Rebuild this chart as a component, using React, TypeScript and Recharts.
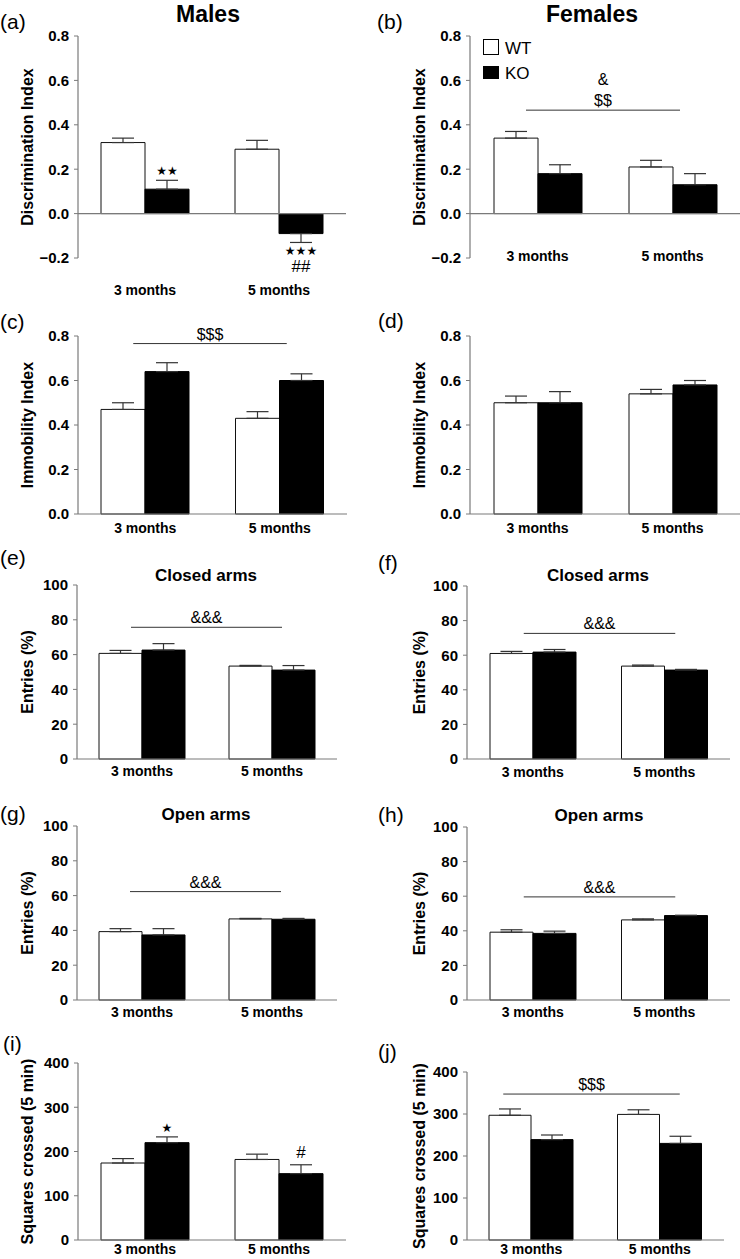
import React from "react";
import {
  BarChart,
  Bar,
  XAxis,
  YAxis,
  ErrorBar,
  ReferenceLine,
  LabelList,
} from "recharts";

const categories = ["3 months", "5 months"];

// (a) males - discrimination index
const maleDiWt = [0.32, 0.29];
const maleDiWtSem = [0.02, 0.04];
const maleDiKo = [0.11, -0.09];
const maleDiKoSem = [0.04, 0.04];
const maleDiKoMarks = ["★★", "★★★|##"];

// (b) females - discrimination index
const femaleDiWt = [0.34, 0.21];
const femaleDiWtSem = [0.03, 0.03];
const femaleDiKo = [0.18, 0.13];
const femaleDiKoSem = [0.04, 0.05];
const femaleDiSig = 0.466;
const femaleDiSigText = ["&", "$$"];

// (c) males - immobility index
const maleImWt = [0.47, 0.43];
const maleImWtSem = [0.03, 0.03];
const maleImKo = [0.64, 0.6];
const maleImKoSem = [0.04, 0.03];
const maleImSig = 0.766;
const maleImSigText = ["$$$"];

// (d) females - immobility index
const femaleImWt = [0.5, 0.54];
const femaleImWtSem = [0.03, 0.02];
const femaleImKo = [0.5, 0.58];
const femaleImKoSem = [0.05, 0.02];

// (e) males - closed arms entries
const maleClosedWt = [60.7, 53.4];
const maleClosedWtSem = [1.7, 0.4];
const maleClosedKo = [62.6, 51.1];
const maleClosedKoSem = [3.7, 2.6];
const maleClosedSig = 75.7;

// (f) females - closed arms entries
const femaleClosedWt = [61.0, 53.7];
const femaleClosedWtSem = [1.2, 0.6];
const femaleClosedKo = [61.8, 51.4];
const femaleClosedKoSem = [1.5, 0.4];
const femaleClosedSig = 72.6;

// (g) males - open arms entries
const maleOpenWt = [39.3, 46.6];
const maleOpenWtSem = [1.7, 0.3];
const maleOpenKo = [37.4, 46.4];
const maleOpenKoSem = [3.6, 0.5];
const maleOpenSig = 62.3;

// (h) females - open arms entries
const femaleOpenWt = [39.2, 46.3];
const femaleOpenWtSem = [1.4, 0.6];
const femaleOpenKo = [38.5, 48.8];
const femaleOpenKoSem = [1.3, 0.2];
const femaleOpenSig = 59.6;

const armsSigText = ["&&&"];

// (i) males - squares crossed
const maleSqWt = [174, 182];
const maleSqWtSem = [10, 12];
const maleSqKo = [220, 150];
const maleSqKoSem = [13, 20];
const maleSqKoMarks = ["★", "#"];

// (j) females - squares crossed
const femaleSqWt = [297, 299];
const femaleSqWtSem = [15, 11];
const femaleSqKo = [239, 230];
const femaleSqKoSem = [11, 17];
const femaleSqSig = 347.5;
const femaleSqSigText = ["$$$"];

const indexTicks = [-0.2, 0, 0.2, 0.4, 0.6, 0.8];
const immTicks = [0, 0.2, 0.4, 0.6, 0.8];
const entryTicks = [0, 20, 40, 60, 80, 100];
const squareTicks = [0, 100, 200, 300, 400];

const AXIS = "#7a7a7a";
const FONT = "'Liberation Sans', Arial, Helvetica, sans-serif";

const fmt1 = (v: number) =>
  v < 0 ? "\u2212" + Math.abs(v).toFixed(1) : v.toFixed(1);
const fmt0 = (v: number) => String(v);

type Sig = { y: number; labels: string[]; ext: [number, number] };

type PanelSpec = {
  colLeft: number;
  px0: number;
  px1: number;
  py0: number;
  py1: number;
  domain: [number, number];
  ticks: number[];
  fmt: (v: number) => string;
  yLabel: string;
  barSize: number;
  catDy: number;
  zeroLine?: boolean;
  wt: number[];
  wtSem: number[];
  ko: number[];
  koSem: number[];
  marks?: string[];
  sig?: Sig;
};

const panels: PanelSpec[] = [
  {
    colLeft: 0, px0: 78, px1: 346, py0: 36, py1: 258,
    domain: [-0.2, 0.8], ticks: indexTicks, fmt: fmt1,
    yLabel: "Discrimination Index", barSize: 44, catDy: 37, zeroLine: true,
    wt: maleDiWt, wtSem: maleDiWtSem, ko: maleDiKo, koSem: maleDiKoSem,
    marks: maleDiKoMarks,
  },
  {
    colLeft: 370, px0: 470, px1: 740, py0: 36, py1: 258,
    domain: [-0.2, 0.8], ticks: indexTicks, fmt: fmt1,
    yLabel: "Discrimination Index", barSize: 44, catDy: 3, zeroLine: true,
    wt: femaleDiWt, wtSem: femaleDiWtSem, ko: femaleDiKo, koSem: femaleDiKoSem,
    sig: { y: femaleDiSig, labels: femaleDiSigText, ext: [11.5, 7.5] },
  },
  {
    colLeft: 0, px0: 78, px1: 347, py0: 336, py1: 514,
    domain: [0, 0.8], ticks: immTicks, fmt: fmt1,
    yLabel: "Immobility Index", barSize: 44, catDy: 19,
    wt: maleImWt, wtSem: maleImWtSem, ko: maleImKo, koSem: maleImKoSem,
    sig: { y: maleImSig, labels: maleImSigText, ext: [12, 7] },
  },
  {
    colLeft: 370, px0: 470, px1: 740, py0: 336, py1: 514,
    domain: [0, 0.8], ticks: immTicks, fmt: fmt1,
    yLabel: "Immobility Index", barSize: 44, catDy: 19,
    wt: femaleImWt, wtSem: femaleImWtSem, ko: femaleImKo, koSem: femaleImKoSem,
  },
  {
    colLeft: 0, px0: 77, px1: 337, py0: 585, py1: 759,
    domain: [0, 100], ticks: entryTicks, fmt: fmt0,
    yLabel: "Entries (%)", barSize: 43, catDy: 17,
    wt: maleClosedWt, wtSem: maleClosedWtSem, ko: maleClosedKo, koSem: maleClosedKoSem,
    sig: { y: maleClosedSig, labels: armsSigText, ext: [11, 10] },
  },
  {
    colLeft: 370, px0: 467, px1: 730, py0: 586, py1: 759,
    domain: [0, 100], ticks: entryTicks, fmt: fmt0,
    yLabel: "Entries (%)", barSize: 43, catDy: 18,
    wt: femaleClosedWt, wtSem: femaleClosedWtSem, ko: femaleClosedKo, koSem: femaleClosedKoSem,
    sig: { y: femaleClosedSig, labels: armsSigText, ext: [9, 11] },
  },
  {
    colLeft: 0, px0: 77, px1: 337, py0: 826, py1: 1000,
    domain: [0, 100], ticks: entryTicks, fmt: fmt0,
    yLabel: "Entries (%)", barSize: 43, catDy: 17,
    wt: maleOpenWt, wtSem: maleOpenWtSem, ko: maleOpenKo, koSem: maleOpenKoSem,
    sig: { y: maleOpenSig, labels: armsSigText, ext: [12, 9] },
  },
  {
    colLeft: 370, px0: 467, px1: 730, py0: 827, py1: 1000,
    domain: [0, 100], ticks: entryTicks, fmt: fmt0,
    yLabel: "Entries (%)", barSize: 43, catDy: 17,
    wt: femaleOpenWt, wtSem: femaleOpenWtSem, ko: femaleOpenKo, koSem: femaleOpenKoSem,
    sig: { y: femaleOpenSig, labels: armsSigText, ext: [9, 11] },
  },
  {
    colLeft: 0, px0: 78, px1: 346, py0: 1063, py1: 1240,
    domain: [0, 400], ticks: squareTicks, fmt: fmt0,
    yLabel: "Squares crossed (5 min)", barSize: 44, catDy: 14,
    wt: maleSqWt, wtSem: maleSqWtSem, ko: maleSqKo, koSem: maleSqKoSem,
    marks: maleSqKoMarks,
  },
  {
    colLeft: 370, px0: 467, px1: 724, py0: 1072, py1: 1240,
    domain: [0, 400], ticks: squareTicks, fmt: fmt0,
    yLabel: "Squares crossed (5 min)", barSize: 42, catDy: 14,
    wt: femaleSqWt, wtSem: femaleSqWtSem, ko: femaleSqKo, koSem: femaleSqKoSem,
    sig: { y: femaleSqSig, labels: femaleSqSigText, ext: [28, 20] },
  },
];

const errPair = (mean: number, sem: number) =>
  mean >= 0 ? [0, sem] : [sem, 0];

const YTitle = (props: { cx: number; cy: number; text: string }) => (
  <text
    x={props.cx}
    y={props.cy}
    dy="0.35em"
    textAnchor="middle"
    transform={`rotate(-90, ${props.cx}, ${props.cy})`}
    fontSize={16}
    fontWeight="bold"
    fill="#000"
  >
    {props.text}
  </text>
);

const markStyle = (t: string) =>
  t.includes("★")
    ? { fontFamily: "'DejaVu Sans', sans-serif", fontSize: 12 }
    : { fontFamily: FONT, fontSize: 17 };

const Panel: React.FC<{ p: PanelSpec }> = ({ p }) => {
  const top = p.py0 - 14;
  const axisH = p.catDy + 5;
  const height = p.py1 + axisH - top;
  const width = p.colLeft === 0 ? p.px1 + 4 : 370;
  const rows = categories.map((cat, i) => ({
    cat,
    wt: p.wt[i],
    ko: p.ko[i],
    wtErr: errPair(p.wt[i], p.wtSem[i]),
    koErr: errPair(p.ko[i], p.koSem[i]),
    koMark: p.marks ? p.marks[i] : "",
  }));
  const yMid = (p.py0 + p.py1) / 2 - top;
  const yLabelX = (p.colLeft === 0 ? 27 : 419) - p.colLeft;

  const renderMark = (lp: any) => {
    const vb = lp.viewBox ?? lp;
    const idx =
      typeof lp.index === "number"
        ? lp.index
        : rows.findIndex((r) => r.koMark === lp.value);
    const row = rows[idx];
    if (!row || !row.koMark) return null;
    const x = Number(vb.x ?? lp.x);
    const y = Number(vb.y ?? lp.y);
    const w = Number(vb.width ?? lp.width);
    const h = Number(vb.height ?? lp.height);
    const mean = row.ko;
    const ppu = Math.abs(h) / Math.abs(mean);
    const cx = x + w / 2;
    const lines = row.koMark.split("|");
    if (mean >= 0) {
      const end = Math.min(y, y + h) - p.koSem[idx] * ppu;
      return (
        <g>
          {lines.map((t, i) => (
            <text
              key={i}
              x={cx}
              y={end - (t.includes("★") ? 5 : 7) - (lines.length - 1 - i) * 15}
              textAnchor="middle"
              fill="#000"
              {...markStyle(t)}
            >
              {t}
            </text>
          ))}
        </g>
      );
    }
    const end = Math.max(y, y + h) + p.koSem[idx] * ppu;
    return (
      <g>
        {lines.map((t, i) => (
          <text
            key={i}
            x={cx}
            y={end + 13 + i * 16.5}
            textAnchor="middle"
            fill="#000"
            {...markStyle(t)}
          >
            {t}
          </text>
        ))}
      </g>
    );
  };

  const sigShape = (sp: any) => {
    if (!p.sig) return <g />;
    const x1 = Number(sp.x1) - p.sig.ext[0];
    const x2 = Number(sp.x2) + p.sig.ext[1];
    const y = Number(sp.y1);
    const labels = p.sig.labels;
    return (
      <g>
        <line x1={x1} x2={x2} y1={y} y2={y} stroke="#333" strokeWidth={1} />
        {labels.map((t, i) => (
          <text
            key={i}
            x={(x1 + x2) / 2}
            y={y - 4 - (labels.length - 1 - i) * 21}
            textAnchor="middle"
            fontSize={16}
            fill="#000"
          >
            {t}
          </text>
        ))}
      </g>
    );
  };

  return (
    <div style={{ position: "absolute", left: p.colLeft, top }}>
      <BarChart
        width={width}
        height={height}
        data={rows}
        margin={{
          top: p.py0 - top,
          right: p.colLeft + width - p.px1,
          bottom: 0,
          left: 0,
        }}
        barGap={0}
        barSize={p.barSize}
      >
        <XAxis
          dataKey="cat"
          height={axisH}
          axisLine={p.zeroLine ? false : { stroke: AXIS, strokeWidth: 1.2 }}
          tickLine={false}
          tickSize={0}
          tickMargin={0}
          interval={0}
          tick={(tp: any) => (
            <text
              x={tp.x}
              y={tp.y + p.catDy}
              textAnchor="middle"
              fontSize={14}
              fontWeight="bold"
              fill="#000"
            >
              {tp.payload.value}
            </text>
          )}
        />
        <YAxis
          type="number"
          width={p.px0 - p.colLeft}
          domain={p.domain}
          ticks={p.ticks}
          interval={0}
          tickFormatter={p.fmt}
          axisLine={{ stroke: AXIS, strokeWidth: 1.2 }}
          tickLine={{ stroke: AXIS }}
          tickSize={4}
          tickMargin={5}
          tick={{ fontSize: 15, fontWeight: "bold", fill: "#000" }}
          label={<YTitle cx={yLabelX} cy={yMid} text={p.yLabel} />}
        />
        {p.zeroLine && <ReferenceLine y={0} stroke={AXIS} strokeWidth={1.2} />}
        {p.sig && (
          <ReferenceLine
            segment={[
              { x: categories[0], y: p.sig.y },
              { x: categories[1], y: p.sig.y },
            ]}
            shape={sigShape}
          />
        )}
        <Bar
          dataKey="wt"
          name="WT"
          fill="#fff"
          stroke="#111"
          strokeWidth={1}
          isAnimationActive={false}
        >
          <ErrorBar
            dataKey="wtErr"
            width={11}
            stroke="#333"
            strokeWidth={1.2}
            direction="y"
            isAnimationActive={false}
          />
        </Bar>
        <Bar
          dataKey="ko"
          name="KO"
          fill="#000"
          stroke="#000"
          strokeWidth={1}
          isAnimationActive={false}
        >
          <ErrorBar
            dataKey="koErr"
            width={11}
            stroke="#333"
            strokeWidth={1.2}
            direction="y"
            isAnimationActive={false}
          />
          {p.marks && <LabelList dataKey="koMark" content={renderMark} />}
        </Bar>
      </BarChart>
    </div>
  );
};

const letters = [
  { t: "(a)", x: 0, y: 29 },
  { t: "(b)", x: 377, y: 29 },
  { t: "(c)", x: 0, y: 329 },
  { t: "(d)", x: 378, y: 328 },
  { t: "(e)", x: 0, y: 565 },
  { t: "(f)", x: 378, y: 570 },
  { t: "(g)", x: 0, y: 821 },
  { t: "(h)", x: 378, y: 822 },
  { t: "(i)", x: 3, y: 1051 },
  { t: "(j)", x: 378, y: 1059 },
];

const subTitles = [
  { t: "Closed arms", x: 206, y: 581 },
  { t: "Closed arms", x: 598, y: 581 },
  { t: "Open arms", x: 206, y: 820 },
  { t: "Open arms", x: 599, y: 821 },
];

const App: React.FC = () => (
  <div
    style={{
      position: "absolute",
      left: 0,
      top: 0,
      width: 740,
      height: 1259,
      overflow: "hidden",
      background: "#fff",
      fontFamily: FONT,
    }}
  >
    {panels.map((p, i) => (
      <Panel key={i} p={p} />
    ))}
    <svg
      width={740}
      height={1259}
      style={{ position: "absolute", left: 0, top: 0, pointerEvents: "none" }}
      fontFamily={FONT}
    >
      <text x={208} y={22} textAnchor="middle" fontSize={23} fontWeight="bold">
        Males
      </text>
      <text x={592} y={22} textAnchor="middle" fontSize={23} fontWeight="bold">
        Females
      </text>
      {letters.map((l) => (
        <text key={l.t} x={l.x} y={l.y} fontSize={21}>
          {l.t}
        </text>
      ))}
      {subTitles.map((s, i) => (
        <text
          key={i}
          x={s.x}
          y={s.y}
          textAnchor="middle"
          fontSize={17}
          fontWeight="bold"
        >
          {s.t}
        </text>
      ))}
      {/* legend */}
      <rect x={483.5} y={39.5} width={15} height={15} fill="#fff" stroke="#000" strokeWidth={1} />
      <text x={505} y={54} fontSize={17}>
        WT
      </text>
      <rect x={483} y={66} width={16} height={13} fill="#000" />
      <text x={505} y={79} fontSize={17}>
        KO
      </text>
    </svg>
  </div>
);

export default App;
